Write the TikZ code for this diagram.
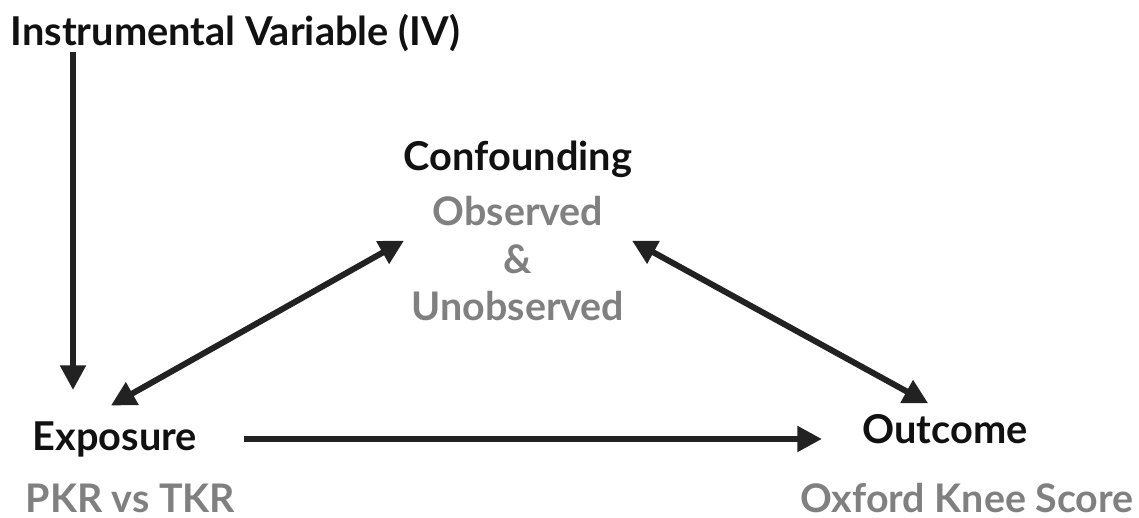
\documentclass[tikz,border=0pt]{standalone}
\usepackage{fontspec}
\setmainfont{Lato}
\usepackage{tikz}
\usetikzlibrary{arrows.meta,positioning,calc}
\definecolor{ink}{HTML}{111111}
\definecolor{line}{HTML}{222222}
\definecolor{soft}{HTML}{808080}

\begin{document}
\begin{tikzpicture}
[x=0.01cm,y=-0.01cm,
lbl/.style={inner sep=0pt,text=ink,font=\fontsize{11.3}{13}\selectfont\bfseries},
sub/.style={inner sep=0pt,text=soft,font=\fontsize{11.2}{13}\selectfont\bfseries},
arr/.style={line,line width=1.7pt,-{Triangle[length=7pt,width=7pt]}},
arr2/.style={line,line width=1.7pt,{Triangle[length=7pt,width=7pt]}-{Triangle[length=7pt,width=7pt]}}]
\useasboundingbox (0,0) rectangle (1139,517);
\node[lbl,anchor=base west] (iv) at (10,45) {Instrumental Variable (IV)};
\node[lbl,anchor=base west] (expo) at (32,450) {Exposure};
\node[sub,anchor=base west] (pkr) at (25,512) {PKR vs TKR};
\node[lbl,anchor=base] (conf) at (518,170) {Confounding};
\node[sub,anchor=base] (obs) at (518,225) {Observed};
\node[sub,anchor=base] (amp) at (518,273) {\&};
\node[sub,anchor=base] (unobs) at (518,320) {Unobserved};
\node[lbl,anchor=base west] (outc) at (862,443) {Outcome};
\node[sub,anchor=base west] (oks) at (800,512) {Oxford Knee Score};
\coordinate (ivfoot) at (73,390);
\draw[arr] (iv.south west -| ivfoot) -- (ivfoot);
\draw[arr,shorten <=0.46cm,shorten >=0.4cm] (expo.east) -- (expo.east -| outc.west);
\draw[arr2] ([shift={(-4,-15)}]expo.north) -- ([shift={(-28,30)}]obs.west);
\draw[arr2] ([shift={(28,30)}]obs.east) -- ([shift={(-17,-10)}]outc.north);
\end{tikzpicture}
\end{document}
